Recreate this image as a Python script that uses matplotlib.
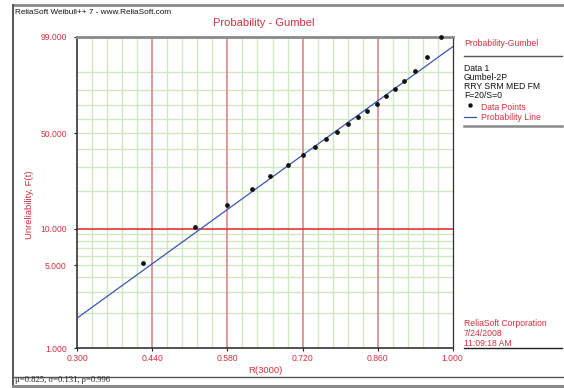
import numpy as np
import matplotlib
matplotlib.use("Agg")
import matplotlib.pyplot as plt
from matplotlib.lines import Line2D
from matplotlib.ticker import FixedLocator, FixedFormatter

plt.rcParams['font.family'] = ['Liberation Sans Narrow', 'Liberation Sans', 'DejaVu Sans']

# ---- data -------------------------------------------------------------
r3000 = [0.423, 0.520, 0.580, 0.626, 0.659, 0.693, 0.720, 0.743, 0.764, 0.785,
         0.805, 0.823, 0.840, 0.858, 0.875, 0.892, 0.910, 0.930, 0.953, 0.979]
unrel = [5.2, 10.3, 15.5, 20.6, 25.8, 30.8, 36.1, 41.0, 46.0, 51.0,
         56.4, 61.2, 66.1, 71.0, 76.1, 81.0, 85.7, 90.7, 95.4, 99.0]
mu, sigma, rho = 0.825, 0.131, 0.996

x_ticks = [0.300, 0.440, 0.580, 0.720, 0.860, 1.000]
y_ticks = [1, 5, 10, 50, 99]
y_grid_green = [2, 3, 4, 5, 6, 7, 8, 9, 20, 30, 40, 50, 60, 70, 80, 90]
y_grid_red = [10]

RED_TXT = '#d0303f'
GREEN = '#cfe8bf'
RED_GRID = '#e0848e'
RED_LINE = '#e02424'
BLUE = '#3a56b0'
FS = 6.2

W, H = 564, 388


def fx(x):
    return x / W


def fy(y):
    return 1 - y / H


# Gumbel (smallest extreme value) probability scale, values in percent
def gumbel_fwd(p):
    p = np.clip(np.asarray(p, dtype=float), 1e-6, 100 - 1e-6) / 100.0
    return np.log(-np.log(1 - p))


def gumbel_inv(g):
    return 100.0 * (1 - np.exp(-np.exp(np.asarray(g, dtype=float))))


fig = plt.figure(figsize=(W / 100, H / 100), dpi=100)
ax = fig.add_axes([fx(77.3), fy(348), fx(452.7 - 77.3), (348 - 37) / H])
ax.set_yscale('function', functions=(gumbel_fwd, gumbel_inv))
ax.set_xlim(0.3, 1.0)
ax.set_ylim(1, 99)

# grid
minor_x = np.round(np.arange(0.3, 1.0001, 0.028), 3)
for xv in minor_x:
    if any(abs(xv - m) < 1e-6 for m in x_ticks):
        continue
    ax.axvline(xv, color=GREEN, lw=1.0, zorder=1)
for xv in x_ticks[1:-1]:
    ax.axvline(xv, color=RED_GRID, lw=1.2, zorder=1.5)
for yv in y_grid_green:
    ax.axhline(yv, color=GREEN, lw=1.0, zorder=1)
for yv in y_grid_red:
    ax.axhline(yv, color=RED_LINE, lw=1.1, zorder=1.6)

# probability line from the fitted parameters
xs = np.linspace(0.3, 1.0, 200)
Fs = 100 * (1 - np.exp(-np.exp((xs - mu) / sigma)))
ax.plot(xs, Fs, color=BLUE, lw=0.9, zorder=3)

# data points
ax.plot(r3000, unrel, 'o', color='#111111', ms=2.4, zorder=4, clip_on=False)

# axes styling
ax.xaxis.set_major_locator(FixedLocator(x_ticks))
ax.xaxis.set_major_formatter(FixedFormatter([f'{v:.3f}' for v in x_ticks]))
ax.yaxis.set_major_locator(FixedLocator(y_ticks))
ax.yaxis.set_major_formatter(FixedFormatter([f'{v:.3f}' for v in y_ticks]))
ax.yaxis.set_minor_locator(FixedLocator([]))
ax.xaxis.set_minor_locator(FixedLocator([]))
ax.tick_params(axis='both', which='major', labelsize=FS, labelcolor=RED_TXT,
               length=2.5, width=0.8, color='#222222', direction='out')
ax.tick_params(axis='x', pad=1.8)
ax.tick_params(axis='y', pad=5)

for s in ['left', 'bottom', 'right']:
    ax.spines[s].set_color('#333333')
    ax.spines[s].set_linewidth(1.2)
ax.spines['right'].set_linewidth(0.9)
ax.spines['top'].set_color('#8a8a8a')
ax.spines['top'].set_linewidth(2.0)

ax.set_xlabel('R(3000)', color=RED_TXT, fontsize=6.8, labelpad=2.5)
fig.text(fx(29.5), fy(205), 'Unreliability, F(t)', color=RED_TXT, fontsize=6.8,
         rotation=90, ha='center', va='center')

# title and header
fig.text(fx(264), fy(23), 'Probability - Gumbel', color=RED_TXT, fontsize=8,
         ha='center', va='center')
fig.text(fx(15), fy(12), 'ReliaSoft Weibull++ 7 - www.ReliaSoft.com', color='#111111',
         fontsize=5.9, ha='left', va='center')

# outer frame
frame_kw = dict(transform=fig.transFigure, color='#8a8a8a')
fig.add_artist(Line2D([fx(13), fx(564)], [fy(5), fy(5)], lw=2.0, **frame_kw))
fig.add_artist(Line2D([fx(13), fx(13)], [fy(5), fy(388)], lw=1.4,
                      transform=fig.transFigure, color='#555555'))
fig.add_artist(Line2D([fx(13), fx(564)], [fy(376.5), fy(376.5)], lw=1.0,
                      transform=fig.transFigure, color='#555555'))
fig.add_artist(Line2D([fx(13), fx(564)], [fy(385.5), fy(385.5)], lw=2.2, **frame_kw))

# legend panel
fig.text(fx(464), fy(43), 'Probability-Gumbel', color=RED_TXT, fontsize=FS,
         ha='left', va='center')
fig.add_artist(Line2D([fx(464), fx(562)], [fy(56), fy(56)], lw=1.0,
                      transform=fig.transFigure, color='#555555'))
info_y = [68.7, 77.3, 86.5, 95.5]
info = ['Data 1', 'Gumbel-2P', 'RRY SRM MED FM', 'F=20/S=0']
for yy, t in zip(info_y, info):
    fig.text(fx(464), fy(yy), t, color='#111111', fontsize=FS,
             ha='left', va='center')
fig.add_artist(Line2D([fx(469.5)], [fy(105)], marker='o', ms=2.2, color='#111111',
                      lw=0, transform=fig.transFigure))
fig.text(fx(481), fy(107), 'Data Points', color=RED_TXT, fontsize=FS,
         ha='left', va='center')
fig.add_artist(Line2D([fx(464), fx(476)], [fy(116.5), fy(116.5)], lw=0.9,
                      color=BLUE, transform=fig.transFigure))
fig.text(fx(481), fy(117), 'Probability Line', color=RED_TXT, fontsize=FS,
         ha='left', va='center')
fig.add_artist(Line2D([fx(464), fx(562)], [fy(126), fy(126)], lw=1.8, **frame_kw))

corp = ['ReliaSoft Corporation', '7/24/2008', '11:09:18 AM']
for i, t in enumerate(corp):
    fig.text(fx(464), fy(324 + 9.7 * i), t, color=RED_TXT, fontsize=FS,
             ha='left', va='center')
fig.add_artist(Line2D([fx(464), fx(562)], [fy(347.5), fy(347.5)], lw=1.0,
                      transform=fig.transFigure, color='#222222'))

# footer with fit statistics
fig.text(fx(15), fy(380.5), f'\u03bc={mu:.3f}, \u03c3={sigma:.3f}, \u03c1={rho:.3f}',
         color='#222222', fontsize=6.2, ha='left', va='center',
         family=['Liberation Serif', 'DejaVu Serif'])

fig.savefig('out.png', dpi=100)
